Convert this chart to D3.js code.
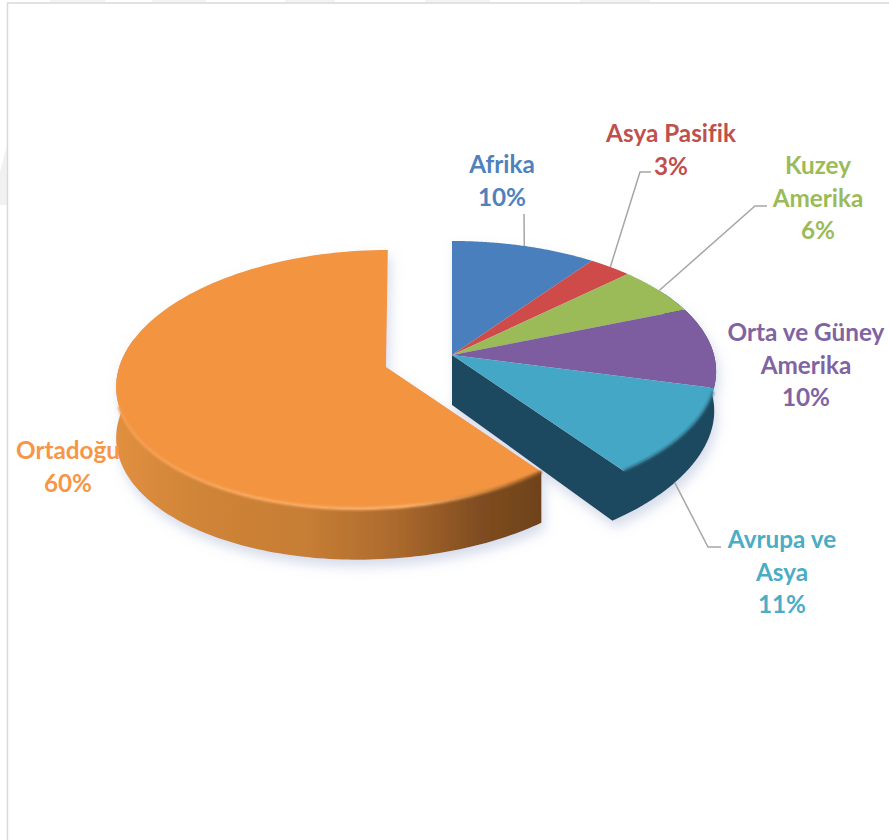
<!DOCTYPE html>
<html lang="tr">
<head>
<meta charset="utf-8">
<style>
  html, body { margin: 0; padding: 0; background: #fff; }
  svg { display: block; }
  text { font-family: Lato, "Open Sans", sans-serif; font-weight: 700; }
</style>
<script src="https://cdn.jsdelivr.net/npm/d3@7"></script>
</head>
<body>
<svg id="chart" width="889" height="840"></svg>
<script>
// Share of world reserves by region, in percent
const categories = ["Afrika", "Asya Pasifik", "Kuzey Amerika", "Orta ve Güney Amerika", "Avrupa ve Asya", "Ortadoğu"];
const shares = [10, 3, 6, 10, 11, 60];
const labelLines = [["Afrika"], ["Asya Pasifik"], ["Kuzey", "Amerika"], ["Orta ve Güney", "Amerika"], ["Avrupa ve", "Asya"], ["Ortadoğu"]];
const faceColors = ["#4a7fbd", "#cf4b48", "#9bbb59", "#7d5da0", "#45a7c6", "#f39441"];
const textColors = ["#4f81bd", "#c0504d", "#9bbb59", "#8064a2", "#4bacc6", "#f79646"];

const svg = d3.select("#chart");
const defs = svg.append("defs");

// Perspective projection of a disc lying flat: far points shrink towards the apex,
// and the lower rim narrows a little towards the viewer
function projector(p) {
  return (a, level) => {
    const X = Math.sin(a), Y = Math.cos(a);
    const w = 1 + p.k * Y + p.m * X;
    const sx = (p.rx * X + p.skewX * Y) / w, sy = (-p.ry * Y + p.skewY * X) / w;
    return level === "bottom"
      ? [p.ox + sx * (p.bottomX + p.taper * Y), p.oy + p.depth + sy * p.bottomY]
      : [p.ox + sx, p.oy + sy];
  };
}
const mainDisc = projector({ ox: 452, oy: 355, rx: 262, ry: 128.4, k: 0.126, m: 0, skewX: 0, skewY: 0, depth: 50, bottomX: 1, taper: 0.08, bottomY: 1 });
const liftedDisc = projector({ ox: 386, oy: 367, rx: 255, ry: 127.9, k: 0.093, m: 0.05, skewX: 2, skewY: -6, depth: 51, bottomX: 1, taper: 0, bottomY: 1 });

const pieces = d3.pie().sort(null).value(d => d)(shares);
pieces.forEach((d, i) => { d.project = i === 5 ? liftedDisc : mainDisc; d.index = i; });

const polyline = d3.line();
const arcPoints = (project, a0, a1, level) =>
  d3.range(0, 121).map(i => project(a0 + (a1 - a0) * i / 120, level));
const rad = deg => deg * Math.PI / 180;

// Frame and faint page marks behind the chart
const back = svg.append("g");
[[50, 55], [152, 54], [285, 50], [425, 65], [580, 70]].forEach(([x, w]) =>
  back.append("rect").attr("x", x).attr("y", 0).attr("width", w).attr("height", 2).attr("fill", "#f3f3f3"));
back.append("path").attr("d", "M0,172L7,145L7,205L0,205Z").attr("fill", "#f1f1f1");
back.append("path").attr("d", "M7.5,840V3H889").attr("fill", "none").attr("stroke", "#d9d9d9").attr("stroke-width", 1.5);

// Gradients and filters
const wallGrad = defs.append("linearGradient").attr("id", "orangeWall")
  .attr("gradientUnits", "userSpaceOnUse").attr("x1", 117).attr("x2", 545).attr("y1", 0).attr("y2", 0);
[[0, "#e08f3f"], [0.2, "#cf8437"], [0.45, "#c67d34"], [0.65, "#ac6a2d"], [0.85, "#7f4c20"], [1, "#6e421b"]]
  .forEach(([o, c]) => wallGrad.append("stop").attr("offset", o).attr("stop-color", c));
const rimGrad = defs.append("linearGradient").attr("id", "orangeRim")
  .attr("gradientUnits", "userSpaceOnUse").attr("x1", 117).attr("x2", 545).attr("y1", 0).attr("y2", 0);
[[0, "#f59c4e"], [0.3, "#f9a95f"], [0.68, "#fbb16c"], [0.85, "#c87f38"], [1, "#8a5422"]]
  .forEach(([o, c]) => rimGrad.append("stop").attr("offset", o).attr("stop-color", c));
defs.append("filter").attr("id", "soft").attr("x", "-5%").attr("y", "-5%").attr("width", "110%").attr("height", "110%")
  .append("feGaussianBlur").attr("stdDeviation", 1.2);
const shadow = defs.append("filter").attr("id", "shadow").attr("x", "-10%").attr("y", "-10%").attr("width", "120%").attr("height", "125%");
shadow.append("feDropShadow").attr("dx", 3).attr("dy", 7).attr("stdDeviation", 6)
  .attr("flood-color", "#aeb9d6").attr("flood-opacity", 0.5);

const pie3d = svg.append("g").attr("filter", "url(#shadow)");

// Outer wall and exposed cut face of the main disc, drawn as one dark surface
const main = pieces.filter(d => d.index < 5);
const mainStart = rad(58), mainEnd = main[main.length - 1].endAngle;
const apexBottom = mainDisc(0, "bottom");
pie3d.append("path")
  .attr("d", polyline([
    [452, 355],
    ...arcPoints(mainDisc, mainEnd, mainStart, "top"),
    ...arcPoints(mainDisc, mainStart, mainEnd, "bottom"),
    [452, 355 + 50]
  ]) + "Z")
  .attr("fill", "#1c4a5e");

// Outer wall of the pulled-out slice
const big = pieces[5];
pie3d.append("path")
  .attr("d", polyline([
    ...arcPoints(liftedDisc, big.startAngle, rad(285), "top"),
    ...arcPoints(liftedDisc, rad(285), big.startAngle, "bottom")
  ]) + "Z")
  .attr("fill", "url(#orangeWall)");

// Top faces
const apex = d => d.index === 5 ? [386, 367] : [452, 355];
pie3d.selectAll("path.face").data(pieces).join("path")
  .attr("class", "face")
  .attr("d", d => polyline([apex(d), ...arcPoints(d.project, d.startAngle, d.endAngle, "top")]) + "Z")
  .attr("fill", d => faceColors[d.index]);

// Bevel highlight where the top meets the wall
svg.append("path")
  .attr("d", polyline(arcPoints(liftedDisc, big.startAngle, rad(256), "top")))
  .attr("fill", "none").attr("stroke", "url(#orangeRim)").attr("stroke-width", 3).attr("filter", "url(#soft)");
svg.append("path")
  .attr("d", polyline(arcPoints(mainDisc, rad(106), mainEnd, "top")))
  .attr("fill", "none").attr("stroke", "#2d6f87").attr("stroke-width", 2.5).attr("filter", "url(#soft)");

// Label layout: centre of the text block, first baseline, and the leader's elbow points
const labelLayout = [
  { x: 502, y: 173, leader: [[524, 214]] },
  { x: 671, y: 142, leader: [[640, 172], [651, 172]] },
  { x: 818, y: 174, leader: [[755, 206], [767, 206]] },
  { x: 806, y: 341, leader: null },
  { x: 782, y: 548, leader: [[708, 547], [721, 547]], level: "bottom" },
  { x: 68, y: 459, leader: null }
];
const lineGap = 32.6;

// Leader lines start on the rim at the middle of each slice
pieces.forEach(d => {
  const layout = labelLayout[d.index];
  if (!layout.leader) return;
  const start = d.project((d.startAngle + d.endAngle) / 2, layout.level || "top");
  svg.append("path")
    .attr("d", polyline([start, ...layout.leader]))
    .attr("fill", "none").attr("stroke", "#a6a6a6").attr("stroke-width", 1.5);
});

// Category names with their percentages
const labels = svg.selectAll("text.label").data(pieces).join("text")
  .attr("class", "label")
  .attr("text-anchor", "middle")
  .attr("font-size", 24.3)
  .attr("fill", d => textColors[d.index]);
labels.each(function (d) {
  const layout = labelLayout[d.index];
  const rows = [...labelLines[d.index], d.value + "%"];
  d3.select(this).selectAll("tspan").data(rows).join("tspan")
    .attr("x", layout.x)
    .attr("y", (_, i) => layout.y + i * lineGap)
    .text(t => t);
});
</script>
</body>
</html>
